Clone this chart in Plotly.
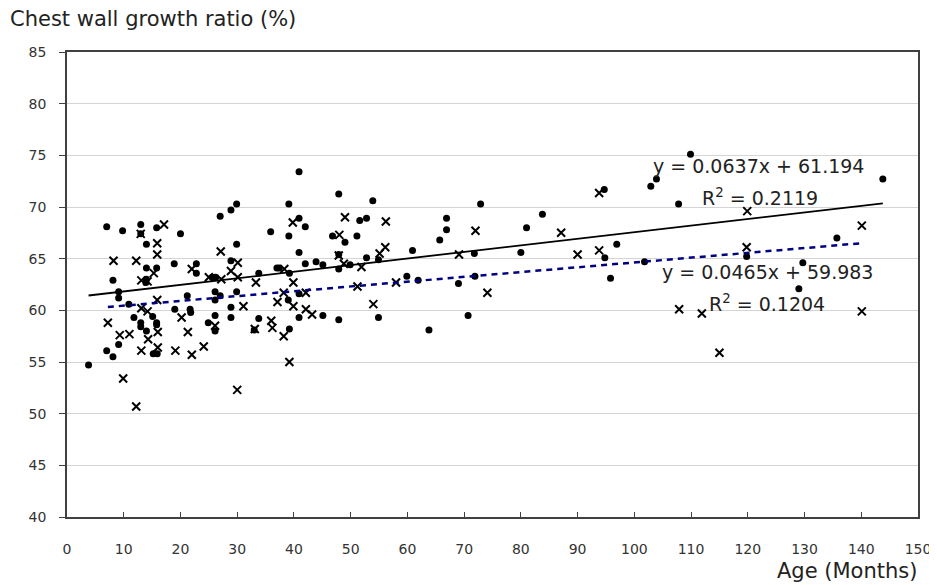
import plotly.graph_objects as go

# Group 1 (filled dots)
dot_x = [7.0, 9.8, 13.0, 13.0, 14.0, 15.8, 20.0, 18.9, 8.1, 14.0, 14.0, 13.9, 15.8, 9.1, 9.1,
         10.9, 11.8, 13.0, 13.0, 14.0, 15.1, 15.8, 15.8, 19.0, 9.1, 7.0, 8.1, 15.2, 15.9, 3.8,
         40.9, 27.0, 28.9, 29.9, 39.1, 40.9, 42.0, 35.9, 39.1, 29.9, 40.9, 22.8, 22.8, 28.9, 42.0,
         43.9, 25.6, 26.2, 33.8, 37.0, 37.4, 39.2, 21.2, 26.1, 26.1, 27.0, 29.9, 39.0, 40.9, 21.7,
         21.8, 28.9, 28.9, 26.1, 24.9, 26.1, 33.8, 33.0, 39.2, 40.9,
         47.9, 53.9, 51.6, 52.8, 66.9, 66.9, 46.8, 49.0, 51.1, 65.7, 60.9, 45.1, 47.9, 47.9, 49.9,
         52.8, 54.9, 59.9, 61.9, 45.1, 47.9, 54.9, 63.8,
         94.7, 72.9, 83.8, 81.0, 96.9, 71.8, 80.0, 94.8, 101.8, 71.9, 69.0, 95.8, 70.7,
         109.9, 102.9, 103.9, 107.8, 143.8, 135.7, 119.8, 129.7, 129.0]
dot_y = [68.1, 67.7, 68.3, 67.4, 66.4, 68.0, 67.4, 64.5, 62.9, 64.1, 63.0, 62.7, 64.1, 61.8, 61.2,
         60.6, 59.3, 58.8, 58.4, 58.0, 59.4, 58.8, 58.6, 60.1, 56.7, 56.1, 55.5, 55.8, 55.8, 54.7,
         73.4, 69.1, 69.7, 70.3, 70.3, 68.9, 68.1, 67.6, 67.2, 66.4, 65.6, 64.5, 63.6, 64.8, 64.5,
         64.7, 63.2, 63.2, 63.6, 64.1, 64.1, 63.6, 61.4, 61.8, 61.0, 61.4, 61.8, 61.0, 61.6, 60.1,
         59.8, 60.3, 59.3, 59.5, 58.8, 58.0, 59.2, 58.1, 58.2, 59.3,
         71.25, 70.6, 68.7, 68.9, 68.9, 67.8, 67.2, 66.6, 67.2, 66.8, 65.8, 64.4, 65.4, 64.0, 64.4,
         65.1, 64.9, 63.3, 62.9, 59.5, 59.1, 59.3, 58.1,
         71.7, 70.3, 69.3, 68.0, 66.4, 65.5, 65.6, 65.1, 64.7, 63.3, 62.6, 63.1, 59.5,
         75.1, 72.0, 72.7, 70.3, 72.7, 67.0, 65.2, 64.6, 62.1]

# Group 2 (crosses)
cross_x = [17.1, 13.0, 15.9, 15.9, 8.2, 12.2, 15.3, 13.1, 14.2, 15.9, 13.1, 14.2, 20.2, 7.2, 9.3,
           11.0, 14.3, 16.0, 16.0, 13.1, 19.1, 9.9, 12.2,
           39.8, 27.1, 22.0, 30.1, 28.9, 27.2, 30.1, 25.0, 38.3, 39.9, 33.3, 42.1, 38.2, 37.1, 31.1,
           39.9, 42.1, 43.2, 21.3, 26.1, 33.1, 36.0, 36.2, 38.2, 24.1, 22.0, 39.2, 30.0,
           49.0, 56.2, 48.0, 47.9, 56.1, 55.1, 48.8, 51.9, 51.2, 58.0, 54.0,
           93.8, 72.0, 87.1, 69.1, 90.0, 93.8, 74.1,
           119.9, 140.1, 119.8, 107.9, 111.9, 140.1, 115.0]
cross_y = [68.3, 67.4, 66.5, 65.4, 64.8, 64.8, 63.6, 62.9, 62.8, 61.0, 60.2, 59.9, 59.3, 58.8, 57.6,
           57.7, 57.2, 57.9, 56.4, 56.1, 56.1, 53.4, 50.7,
           68.5, 65.7, 64.0, 64.6, 63.8, 63.0, 63.2, 63.2, 64.0, 62.7, 62.7, 61.7, 61.7, 60.8, 60.4,
           60.4, 60.1, 59.6, 57.9, 58.5, 58.2, 59.0, 58.3, 57.5, 56.5, 55.7, 55.0, 52.3,
           69.0, 68.6, 67.3, 65.3, 66.1, 65.5, 64.5, 64.2, 62.3, 62.7, 60.6,
           71.35, 67.7, 67.5, 65.4, 65.4, 65.8, 61.7,
           69.6, 68.2, 66.1, 60.1, 59.7, 59.9, 55.9]

# Trendline equations as printed on the chart
slope1, intercept1, r2_1 = 0.0637, 61.194, 0.2119
slope2, intercept2, r2_2 = 0.0465, 59.983, 0.1204

x_ticks = list(range(0, 151, 10))
y_ticks = list(range(40, 86, 5))

FONT = "DejaVu Sans"

fig = go.Figure()

fig.add_trace(go.Scatter(
    x=dot_x, y=dot_y, mode="markers",
    marker=dict(symbol="circle", size=7, color="black"),
    showlegend=False, hoverinfo="skip"))

fig.add_trace(go.Scatter(
    x=cross_x, y=cross_y, mode="markers",
    marker=dict(symbol="x-thin", size=8, color="black",
                line=dict(color="black", width=2)),
    showlegend=False, hoverinfo="skip"))

x1 = [min(dot_x), max(dot_x)]
fig.add_trace(go.Scatter(
    x=x1, y=[slope1 * v + intercept1 for v in x1], mode="lines",
    line=dict(color="black", width=1.8), showlegend=False, hoverinfo="skip"))

x2 = [min(cross_x), max(cross_x)]
fig.add_trace(go.Scatter(
    x=x2, y=[slope2 * v + intercept2 for v in x2], mode="lines",
    line=dict(color="#000080", width=2.5, dash="6px,5px"), showlegend=False, hoverinfo="skip"))

eq_font = dict(family=FONT, size=19, color="#222")
anns = [
    dict(x=121.8, y=73.97, text=f"y = {slope1}x + {intercept1}"),
    dict(x=122.2, y=70.97, text=f"R<sup>2</sup> = {r2_1}"),
    dict(x=123.4, y=63.71, text=f"y = {slope2}x + {intercept2}"),
    dict(x=123.4, y=60.71, text=f"R<sup>2</sup> = {r2_2}"),
]
for a in anns:
    fig.add_annotation(xref="x", yref="y", showarrow=False, font=eq_font,
                       xanchor="center", yanchor="middle", **a)

fig.add_annotation(xref="paper", yref="paper", x=-0.0693, y=1.071,
                   text="Chest wall growth ratio (%)", showarrow=False,
                   xanchor="left", yanchor="middle",
                   font=dict(family=FONT, size=21, color="#222"))
fig.add_annotation(xref="paper", yref="paper", x=1.0012, y=-0.116,
                   text="Age (Months)", showarrow=False,
                   xanchor="right", yanchor="middle",
                   font=dict(family=FONT, size=21, color="#222"))

# The page body has an 8px default margin; margins compensate so the plot
# area lands at the same window position as in the reference.
fig.update_layout(
    width=937, height=585,
    margin=dict(l=59, r=27, t=44, b=76),
    paper_bgcolor="white", plot_bgcolor="white",
    xaxis=dict(range=[0, 150], tickvals=x_ticks, ticks="inside", ticklen=5,
               tickcolor="#404040", showline=True, linecolor="#404040", linewidth=1.5,
               mirror=True, showgrid=False, zeroline=False,
               tickfont=dict(family=FONT, size=14, color="#333"),
               ticklabelstandoff=18),
    yaxis=dict(range=[40, 85], tickvals=y_ticks, ticks="outside", ticklen=6,
               tickcolor="#404040", showline=True, linecolor="#404040", linewidth=1.5,
               mirror=True, showgrid=True, gridcolor="#d4d4d4", gridwidth=1, zeroline=False,
               tickfont=dict(family=FONT, size=14, color="#333"),
               ticklabelstandoff=10),
)

fig.write_html("out.html")
